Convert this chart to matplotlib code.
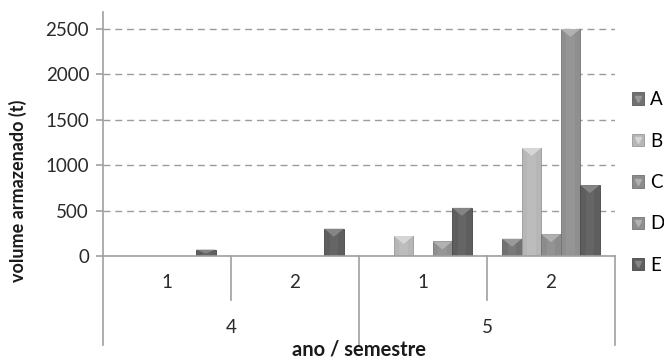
import numpy as np
import matplotlib.pyplot as plt
from matplotlib.lines import Line2D
from matplotlib.patches import Polygon
import matplotlib.transforms as mtransforms

plt.rcParams['font.family'] = ['Lato', 'DejaVu Sans']

# volume armazenado (t) por ano / semestre
anos = ["4", "5"]
semestres = ["1", "2", "1", "2"]
series = ["A", "B", "C", "D", "E"]
A = [0, 0, 0, 190]
B = [0, 0, 220, 1190]
C = [0, 0, 0, 240]
D = [0, 0, 160, 2500]
E = [70, 300, 530, 780]

valores = [A, B, C, D, E]
cores = ["#727272", "#b6b6b6", "#8c8c8c", "#8f8f8f", "#5e5e5e"]
topos = ["#9a9a9a", "#d6d6d6", "#b0b0b0", "#b2b2b2", "#858585"]
bordas = ["#5a5a5a", "#989898", "#727272", "#757575", "#474747"]

fs = 13.5
fig = plt.figure(figsize=(6.64, 3.6), dpi=100)
ax = fig.add_axes([103 / 664, 1 - 256 / 360, 512 / 664, 244 / 360])

x = np.arange(len(semestres))
largura = 0.152
ymax = 2687
tampa = 8 / 244 * ymax

handles = []
for i, (nome, vals) in enumerate(zip(series, valores)):
    pos = x + (i - 2) * largura
    vals = np.array(vals, dtype=float)
    mask = vals > 0
    bars = ax.bar(pos[mask], vals[mask], width=largura, color=cores[i],
                  edgecolor=bordas[i], linewidth=0.6, zorder=3)
    # faixa clara no centro da barra
    ax.bar(pos[mask], vals[mask], width=largura * 0.45, color=topos[i],
           alpha=0.2, linewidth=0, zorder=3.5)
    for r in bars:
        x0, w, h = r.get_x(), r.get_width(), r.get_height()
        c = min(tampa, h * 0.6)
        ax.add_patch(Polygon([(x0, h), (x0 + w, h), (x0 + w / 2, h - c)],
                             closed=True, facecolor=topos[i], edgecolor='none',
                             zorder=4))
    handles.append((plt.Rectangle((0, 0), 1, 1, facecolor=cores[i],
                                  edgecolor=bordas[i], linewidth=0.6),
                    Line2D([], [], marker='v', color=topos[i], ls='',
                           markersize=5)))

ax.set_xlim(-0.5, 3.5)
ax.set_ylim(0, ymax)
ax.set_yticks([0, 500, 1000, 1500, 2000, 2500])
ax.set_xticks([])
ax.yaxis.grid(True, linestyle=(0, (5, 3.5)), color='#9c9c9c', linewidth=1.0,
              zorder=0)
for s in ['top', 'right', 'bottom']:
    ax.spines[s].set_visible(False)
ax.spines['left'].set_color('#a0a0a0')
ax.spines['left'].set_linewidth(1.2)
ax.tick_params(axis='y', length=5, width=1.2, color='#a0a0a0', labelsize=fs,
               labelcolor='#2a2a2a', pad=5)
ax.set_facecolor('none')

# eixo de categorias hierarquico
trans = mtransforms.blended_transform_factory(ax.transData, ax.transAxes)
linha = dict(color='#a0a0a0', linewidth=1.2, transform=trans, clip_on=False)
ax.plot([-0.5, 3.5], [0, 0], zorder=5, **linha)
for xs in [-0.5, 1.5, 3.5]:
    ax.plot([xs, xs], [0, -0.365], **linha)
for xs in [0.5, 2.5]:
    ax.plot([xs, xs], [0, -0.18], **linha)
for xi, s in zip(x, semestres):
    ax.text(xi, -0.11, s, transform=trans, ha='center', va='center',
            fontsize=fs, color='#2a2a2a')
for xi, a in zip([0.5, 2.5], anos):
    ax.text(xi, -0.295, a, transform=trans, ha='center', va='center',
            fontsize=fs, color='#2a2a2a')
ax.text(1.5, -0.385, "ano / semestre", transform=trans, ha='center',
        va='center', fontsize=14.5, fontweight='bold', color='#1a1a1a')

fig.text(18 / 664, 1 - 191 / 360, "volume armazenado (t)", rotation=90,
         ha='center', va='center', fontsize=13, fontweight='bold',
         color='#1a1a1a')

fig.legend(handles, series, loc='center left',
           bbox_to_anchor=(632 / 664, 1 - 182.5 / 360), frameon=False,
           fontsize=fs, handlelength=0.65, handleheight=0.65,
           handletextpad=0.3, labelspacing=1.3, borderpad=0,
           borderaxespad=0)

fig.savefig("out.png", dpi=100)
